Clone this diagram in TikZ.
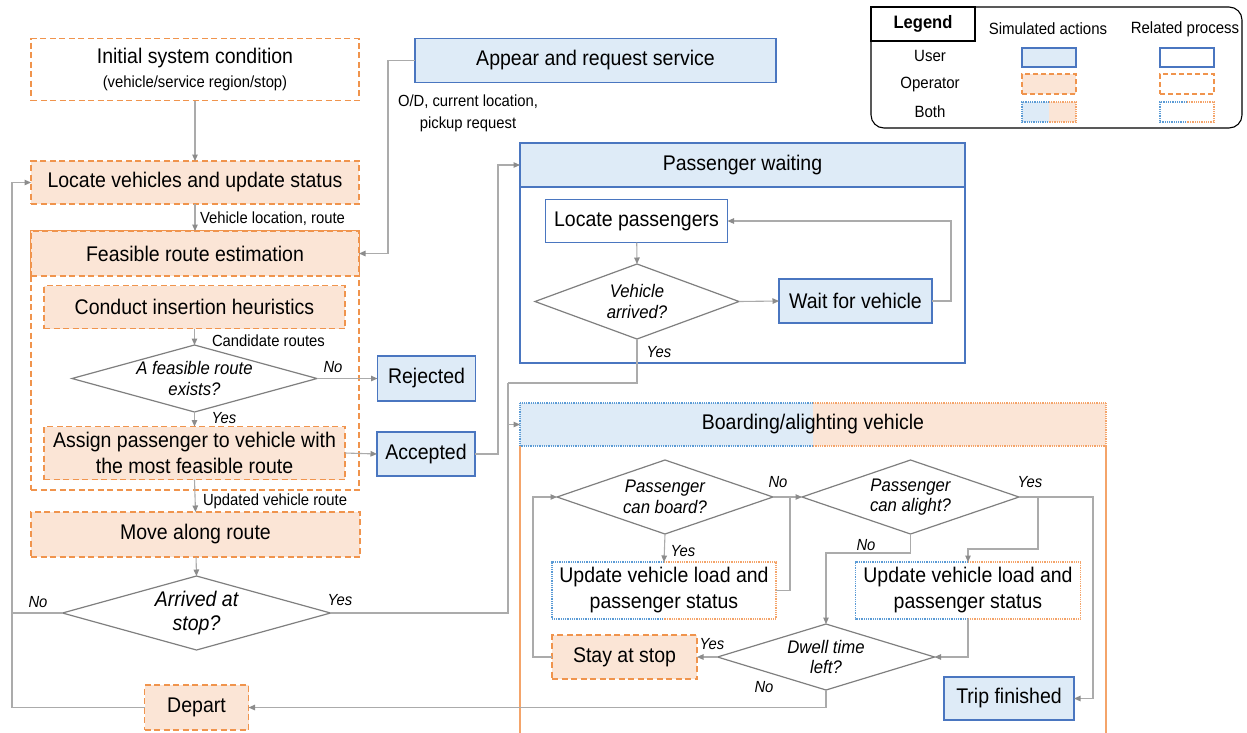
\documentclass[tikz,border=0pt]{standalone}
\usepackage{fontspec}
\setmainfont{Liberation Sans}[FakeStretch=0.92]
\usetikzlibrary{arrows.meta}

\definecolor{opfill}{HTML}{FBE5D6}
\definecolor{opline}{HTML}{F0944D}
\definecolor{userfill}{HTML}{DEEBF7}
\definecolor{userline}{HTML}{4A76C0}
\definecolor{dotblue}{HTML}{5B9BD5}
\definecolor{dotorange}{HTML}{F4A46A}
\definecolor{linkgray}{HTML}{ABABAB}
\definecolor{tipgray}{HTML}{8C8C8C}
\definecolor{diagray}{HTML}{7F7F7F}

% font sizes (the face is set slightly condensed)
\newcommand\fbig{\fontsize{21.2}{27}\selectfont}
\newcommand\fdec{\fontsize{18.2}{20.5}\selectfont\itshape}
\newcommand\farr{\fontsize{21.2}{24}\selectfont\itshape}
\newcommand\flab{\fontsize{16.1}{22}\selectfont}
\newcommand\fleg{\fontsize{16.3}{18}\selectfont}
\newcommand\flegb{\fontsize{18}{20}\selectfont\bfseries}

\tikzset{
  every node/.style={inner sep=0pt, outer sep=0pt, align=center, text=black},
  sz/.style 2 args={minimum width=#1pt, minimum height=#2pt},
  opdash/.style={draw=opline, line width=1.2pt, dash pattern=on 6pt off 3.5pt},
  opsim/.style={rectangle, opdash, fill=opfill, font=\fbig},
  opproc/.style={rectangle, opdash, fill=white, font=\fbig},
  usersim/.style={rectangle, draw=userline, line width=1.2pt, fill=userfill, font=\fbig},
  userproc/.style={rectangle, draw=userline, line width=1.2pt, fill=white, font=\fbig},
  bothsim/.style={rectangle, font=\fbig, path picture={
      \fill[userfill] (path picture bounding box.south west) rectangle (path picture bounding box.north);
      \fill[opfill] (path picture bounding box.south) rectangle (path picture bounding box.north east);}},
  bothproc/.style={rectangle, fill=white, font=\fbig},
  blueedge/.style={draw=dotblue, line width=1.1pt, dash pattern=on 1pt off 0.8pt},
  orangeedge/.style={draw=dotorange, line width=1.1pt, dash pattern=on 1pt off 0.8pt},
  decision/.style={rectangle, font=\fdec},
  diaedge/.style={draw=diagray, line width=1.2pt, line join=miter},
  link/.style={draw=linkgray, line width=1.1pt},
  flow/.style={link, -{Triangle[length=6.5pt,width=5.5pt,color=tipgray]}},
  lab/.style={font=\flab},
  yn/.style={font=\flab\itshape},
  sideline/.style={draw=dotorange, line width=1.1pt},
}

% two-colour dotted outline shared by user and operator
\newcommand\halfborder[1]{%
  \draw[blueedge] (#1.north) -- (#1.north west) -- (#1.south west) -- (#1.south);
  \draw[orangeedge] (#1.north) -- (#1.north east) -- (#1.south east) -- (#1.south);}
% decision outline drawn on the anchors of a plain node
\newcommand\diamondline[1]{%
  \draw[diaedge] (#1.north) -- (#1.east) -- (#1.south) -- (#1.west) -- cycle;}

\begin{document}
\begin{tikzpicture}[x=1pt,y=-1pt]
\path[use as bounding box] (0,0) rectangle (1247,732);
\clip (0,0) rectangle (1247,732);

%% ---------------- legend ----------------
\draw[line width=1.1pt, rounded corners=13pt] (871,7) rectangle (1242,128);
\node[draw, line width=1.1pt, fill=white, sz={104}{34}, font=\flegb] (legtitle) at (923,24) {Legend};
\node[font=\fleg] (colsim) at (1048,29) {Simulated actions};
\node[font=\fleg] (colrel) at (1185,29) {Related process};
\node[font=\fleg] (rowuser) at (930,56) {User};
\node[font=\fleg] (rowop) at (930,84) {Operator};
\node[font=\fleg] (rowboth) at (930,112) {Both};
\node[usersim, sz={54}{19}] (swus) at (1049,57.5) {};
\node[opsim, sz={54}{20}, dash pattern=on 5pt off 3pt] (swos) at (1049,84) {};
\node[bothsim, sz={54}{20}] (swbs) at (1049,112) {};
\halfborder{swbs}
\node[userproc, sz={54}{19}] (swur) at (1187,57.5) {};
\node[opproc, sz={54}{20}, dash pattern=on 5pt off 3pt] (swor) at (1187,84) {};
\node[bothproc, sz={54}{20}] (swbr) at (1187,112) {};
\halfborder{swbr}

%% ---------------- operator side ----------------
\node[opproc, sz={328}{62}] (init) at (195,69.5)
  {Initial system condition\\[-3pt]\flab (vehicle/service region/stop)};
\node[opsim, sz={328}{43}] (locv) at (195,182.5) {Locate vehicles and update status};
\node[opproc, sz={328}{259}] (feasc) at (195,360.5) {};
\node[opsim, sz={328}{45}] (feas) at (195,253.5) {Feasible route estimation};
\node[opsim, sz={301}{43}] (heur) at (194.5,307) {Conduct insertion heuristics};
\node[decision, sz={245}{67}] (fdia) at (194.5,378.5) {A feasible route\\exists?};
\diamondline{fdia}
\node[opsim, sz={301}{53}] (assign) at (194.5,453)
  {Assign passenger to vehicle with\\[-1pt]the most feasible route};
\node[usersim, sz={98}{45}] (rej) at (426.5,378.5) {Rejected};
\node[usersim, sz={98}{44}] (acc) at (426,454) {Accepted};
\node[opsim, sz={329}{45}] (move) at (195.5,534.5) {Move along route};
\node[decision, sz={268}{74}, font=\farr] (arr) at (196.5,613) {Arrived at\\stop?};
\diamondline{arr}
\node[opsim, sz={104}{45}] (dep) at (196.5,707.5) {Depart};

%% ---------------- user request ----------------
\node[usersim, sz={361}{44}] (appear) at (595.5,60.5) {Appear and request service};
\node[lab] (odlab) at (468,113) {O/D, current location,\\pickup request};

%% ---------------- passenger waiting ----------------
\node[userproc, sz={445}{220}] (pw) at (742.5,253) {};
\node[usersim, sz={445}{44}] (pwh) at (742.5,165) {Passenger waiting};
\node[userproc, sz={182}{43}] (locp) at (636.5,221) {Locate passengers};
\node[decision, sz={204}{75}] (varr) at (637,301.5) {Vehicle\\arrived?};
\diamondline{varr}
\node[usersim, sz={153}{44}] (wait) at (855.5,301) {Wait for vehicle};

%% ---------------- boarding / alighting ----------------
\node[bothsim, sz={586}{43}] (bh) at (813,424.5) {Boarding/alighting vehicle};
\halfborder{bh}
\draw[sideline] (bh.south west) -- ++(0,320);
\draw[sideline] (bh.south east) -- ++(0,320);
\node[decision, sz={216}{74}] (board) at (665,497) {Passenger\\can board?};
\diamondline{board}
\node[decision, sz={217}{74}] (alight) at (910.5,497) {Passenger\\can alight?};
\diamondline{alight}
\node[bothproc, sz={224}{57}] (ulf) at (664,590.5) {Update vehicle load and\\[-1pt]passenger status};
\halfborder{ulf}
\node[bothproc, sz={225}{57}] (urt) at (968,590.5) {Update vehicle load and\\[-1pt]passenger status};
\halfborder{urt}
\node[opsim, sz={145}{44}] (stay) at (624.5,657) {Stay at stop};
\node[decision, sz={217}{66}] (dwell) at (826,657) {Dwell time\\left?};
\diamondline{dwell}
\node[usersim, sz={130}{43}] (trip) at (1009,698.5) {Trip finished};

%% ---------------- connectors: operator side ----------------
\draw[flow] (init) -- (locv);
\draw[flow] (locv) -- (feas);
\node[lab, anchor=west] (vlr) at (200,219) {Vehicle location, route};
\draw[flow] (appear.west) -- (388,60.5) |- (feas.east);
\draw[flow] (heur) -- (fdia.north);
\node[lab, anchor=west] (cand) at (212,341) {Candidate routes};
\draw[flow] (fdia.east) -- (rej.west);
\node[yn] (fno) at (333,367) {No};
\draw[flow] (fdia.south) -- (assign.north);
\node[yn] (fyes) at (224,418) {Yes};
\draw[flow] (assign.east) -- (acc.west);
\draw[flow] (acc.east) -- (498,454) |- (pwh.west);
\draw[flow] (assign.south) -- (move.north);
\node[lab, anchor=west] (uvr) at (203,501) {Updated vehicle route};
\draw[flow] (move) -- (arr.north);
\coordinate (loopx) at (12,613);
\draw[link] (arr.west) -- (loopx);
\node[yn] (ano) at (38,602) {No};
\draw[flow] (dep.west) -| (loopx) |- (locv.west);

%% ---------------- connectors: towards boarding ----------------
\coordinate (jn) at (508,383);
\draw[link] (arr.east) -| (jn);
\node[yn] (ayes) at (340,600) {Yes};
\draw[link] (varr.south) |- (jn);
\node[yn] (vyes) at (659,352) {Yes};
\draw[flow] (jn) |- (bh.west);

%% ---------------- connectors: passenger waiting ----------------
\draw[flow] (locp) -- (varr.north);
\draw[flow] (varr.east) -- (wait.west);
\draw[flow] (wait.east) -- (951,301) |- (locp.east);

%% ---------------- connectors: boarding / alighting ----------------
\draw[flow] (stay.west) -- (533,657) |- (board.west);
\draw[flow] (board.south) -- (ulf.north);
\node[yn] (byes) at (683,551) {Yes};
\draw[flow] (board.east) -- (alight.west);
\node[yn] (bno) at (778,482) {No};
\draw[link] (ulf.east) -| (790,497);
\draw[flow] (alight.east) -- (1093,497) |- (trip.east);
\node[yn] (alyes) at (1030,482) {Yes};
\draw[flow] (1038,497) -- (1038,549) -| (urt.north);
\draw[flow] (alight.south) -- (910.5,553) -| (dwell.north);
\node[yn] (alno) at (866,545) {No};
\draw[flow] (urt.south) |- (dwell.east);
\draw[flow] (dwell.west) -- (stay.east);
\node[yn] (dyes) at (712,644) {Yes};
\draw[flow] (dwell.south) |- (dep.east);
\node[yn] (dno) at (764,687) {No};
\end{tikzpicture}
\end{document}
